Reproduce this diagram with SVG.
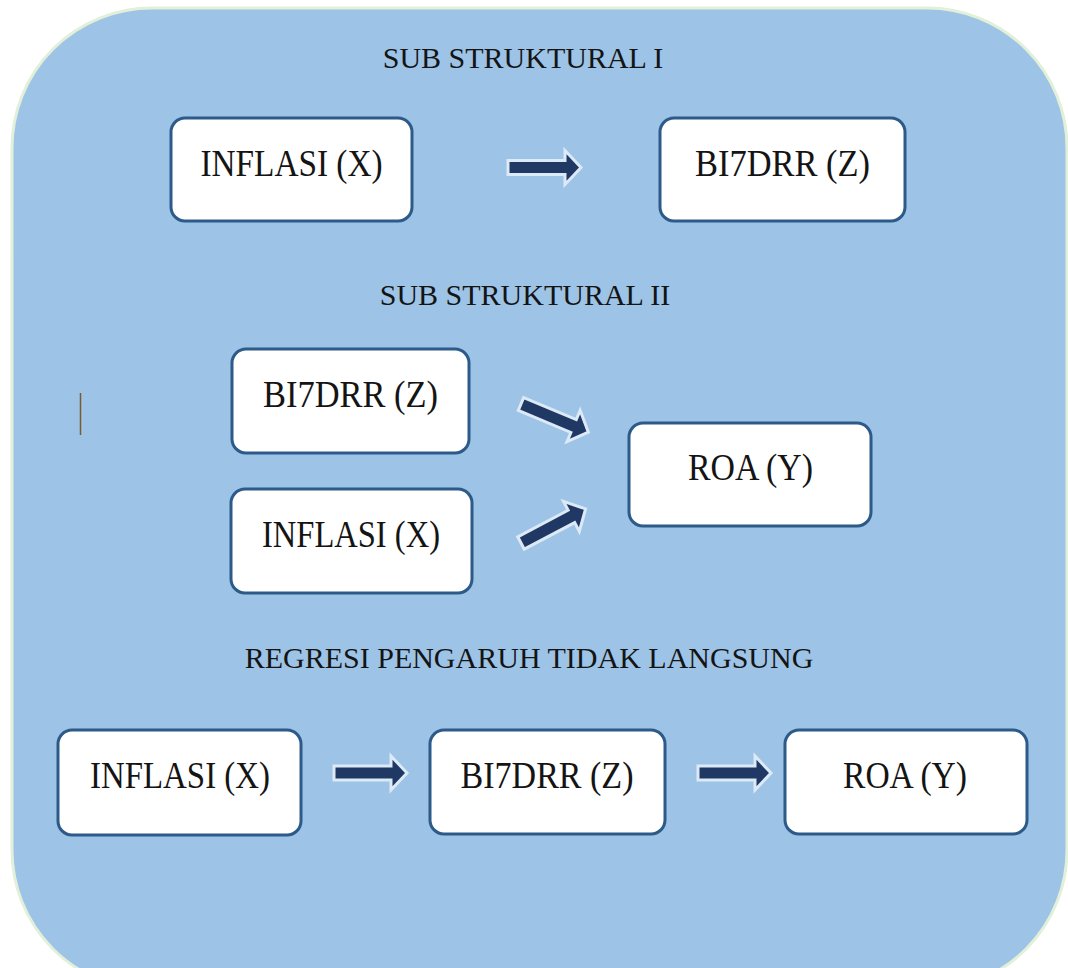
<svg xmlns="http://www.w3.org/2000/svg" width="1068" height="968" viewBox="0 0 1068 968">
  <defs>
    <style>
      .bg { fill: #9dc3e6; stroke: #e2efd9; stroke-width: 3; }
      .box { fill: #ffffff; stroke: #2c5a89; stroke-width: 3; }
      .title { font-family: "Liberation Serif", "Times New Roman", serif; font-size: 30px; fill: #141414; text-anchor: middle; }
      .lbl { font-family: "Liberation Serif", "Times New Roman", serif; font-size: 37px; fill: #141414; text-anchor: middle; }
      .arr { fill: #1f3864; stroke: #dce9f6; stroke-width: 3; stroke-linejoin: miter; }
    </style>
    <path id="blockArrow" d="M0,-7 H57 V-17 L73,0 L57,17 V7 H0 Z"/>
  </defs>

  <rect width="1068" height="968" fill="#ffffff"/>
  <rect class="bg" x="12" y="8" width="1055" height="982" rx="140" ry="140"/>

  <line x1="80.5" y1="393" x2="80.5" y2="435" stroke="#7a5a2e" stroke-width="1.5"/>

  <text class="title" x="523" y="68">SUB STRUKTURAL I</text>
  <text class="title" x="525" y="305">SUB STRUKTURAL II</text>
  <text class="title" x="529" y="668">REGRESI PENGARUH TIDAK LANGSUNG</text>

  <g id="connectors">
    <use href="#blockArrow" class="arr" transform="translate(508,167.5)"/>
    <use href="#blockArrow" class="arr" transform="translate(521,404) rotate(22.7)"/>
    <use href="#blockArrow" class="arr" transform="translate(521,543) rotate(-27.8)"/>
    <use href="#blockArrow" class="arr" transform="translate(334,773)"/>
    <use href="#blockArrow" class="arr" transform="translate(698,773)"/>
  </g>

  <g id="n1-inflasi">
    <rect class="box" x="171" y="118" width="241" height="103" rx="14"/>
    <text class="lbl" x="291.5" y="176" textLength="182" lengthAdjust="spacingAndGlyphs">INFLASI (X)</text>
  </g>
  <g id="n1-bi7drr">
    <rect class="box" x="660" y="118" width="245" height="103" rx="14"/>
    <text class="lbl" x="782.5" y="176" textLength="175" lengthAdjust="spacingAndGlyphs">BI7DRR (Z)</text>
  </g>

  <g id="n2-bi7drr">
    <rect class="box" x="232" y="349" width="237" height="104" rx="14"/>
    <text class="lbl" x="350.5" y="407" textLength="175" lengthAdjust="spacingAndGlyphs">BI7DRR (Z)</text>
  </g>
  <g id="n2-inflasi">
    <rect class="box" x="231" y="489" width="241" height="104" rx="14"/>
    <text class="lbl" x="351" y="547" textLength="178" lengthAdjust="spacingAndGlyphs">INFLASI (X)</text>
  </g>
  <g id="n2-roa">
    <rect class="box" x="629" y="423" width="242" height="103" rx="14"/>
    <text class="lbl" x="750.5" y="480" textLength="125" lengthAdjust="spacingAndGlyphs">ROA (Y)</text>
  </g>

  <g id="n3-inflasi">
    <rect class="box" x="58" y="730" width="243" height="105" rx="14"/>
    <text class="lbl" x="180" y="788" textLength="180" lengthAdjust="spacingAndGlyphs">INFLASI (X)</text>
  </g>
  <g id="n3-bi7drr">
    <rect class="box" x="430" y="730" width="235" height="104" rx="14"/>
    <text class="lbl" x="547" y="788" textLength="173" lengthAdjust="spacingAndGlyphs">BI7DRR (Z)</text>
  </g>
  <g id="n3-roa">
    <rect class="box" x="785" y="730" width="242" height="104" rx="14"/>
    <text class="lbl" x="905" y="788" textLength="124" lengthAdjust="spacingAndGlyphs">ROA (Y)</text>
  </g>
</svg>
